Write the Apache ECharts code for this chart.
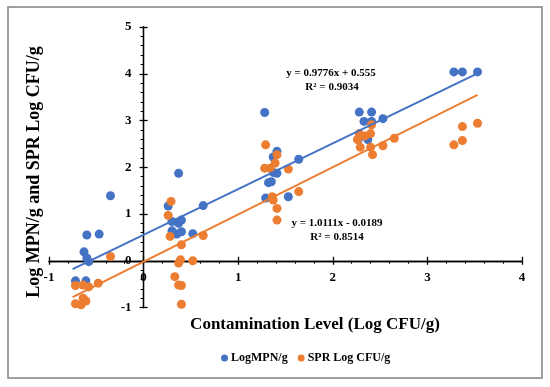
<!DOCTYPE html>
<html>
<head>
<meta charset="utf-8">
<script src="https://cdn.jsdelivr.net/npm/echarts@6/dist/echarts.min.js"></script>
<style>
html,body{margin:0;padding:0;background:#fff;}
#chart{width:550px;height:387px;}
</style>
</head>
<body>
<div id="chart"></div>
<script>
// ---- data ----
const mpnX = [-0.72, -0.61, -0.63, -0.60, -0.58, -0.60, -0.47, -0.35,
  0.37, 0.26, 0.63, 0.30, 0.37, 0.40, 0.30, 0.40, 0.35, 0.52,
  1.28, 1.41, 1.37, 1.64, 1.41, 1.37, 1.32, 1.35, 1.29, 1.53,
  2.28, 2.41, 2.33, 2.41, 2.53, 2.27, 2.37,
  3.28, 3.37, 3.53];
const mpnY = [-0.43, -0.43, 0.19, 0.06, -0.02, 0.55, 0.57, 1.39,
  1.87, 1.17, 1.18, 0.84, 0.80, 0.87, 0.64, 0.62, 0.57, 0.58,
  3.17, 2.34, 2.22, 2.17, 1.87, 1.89, 1.67, 1.69, 1.34, 1.37,
  3.18, 3.18, 2.98, 2.98, 3.04, 2.60, 2.59,
  4.04, 4.04, 4.04];

const sprX = [-0.72, -0.64, -0.58, -0.48, -0.72, -0.66, -0.61, -0.64, -0.35,
  0.29, 0.26, 0.28, 0.63, 0.40, 0.39, 0.37, 0.52, 0.33, 0.37, 0.40, 0.40,
  1.29, 1.41, 1.39, 1.28, 1.34, 1.53, 1.36, 1.37, 1.64, 1.41, 1.41,
  2.28, 2.34, 2.40, 2.41, 2.29, 2.40, 2.42, 2.53, 2.65, 2.26,
  3.37, 3.53, 3.28, 3.37];
const sprY = [-0.53, -0.52, -0.56, -0.48, -0.92, -0.94, -0.86, -0.80, 0.09,
  1.27, 0.97, 0.52, 0.54, 0.34, 0.02, -0.05, 0.00, -0.34, -0.52, -0.53, -0.93,
  2.48, 2.27, 2.09, 1.98, 1.98, 1.96, 1.37, 1.30, 1.48, 1.12, 0.87,
  2.72, 2.67, 2.72, 2.91, 2.43, 2.43, 2.27, 2.46, 2.62, 2.59,
  2.87, 2.94, 2.48, 2.57];

// trendline end points
const mpnTrendX = [-0.75, 3.53];
const mpnTrendY = [-0.18, 4.01];
const sprTrendX = [-0.75, 3.53];
const sprTrendY = [-0.78, 3.55];

const seriesNames = ['LogMPN/g', 'SPR Log CFU/g'];
const xTitle = 'Contamination Level (Log CFU/g)';
const yTitle = 'Log MPN/g and SPR Log CFU/g';
const eq1 = ['y = 0.9776x + 0.555', 'R² = 0.9034'];
const eq2 = ['y = 1.0111x - 0.0189', 'R² = 0.8514'];

const xRange = [-1, 4, 1];
const yRange = [-1, 5, 1];

// ---- chart ----
const zip = (xs, ys) => xs.map((x, i) => [x, ys[i]]);
const BLUE = '#4472C4', ORANGE = '#ED7D31';
const FONT = '"Liberation Serif", "Times New Roman", serif';
const W = 550, H = 387;
const G = {left: 49, right: 28, top: 27, bottom: 79.5};
const gw = W - G.left - G.right, gh = H - G.top - G.bottom;
// offsets so that the axes cross at the origin
const yOffL = -(0 - xRange[0]) / (xRange[1] - xRange[0]) * gw;
const yOffR = -(xRange[1] - 0) / (xRange[1] - xRange[0]) * gw;
const xOffB = -(0 - yRange[0]) / (yRange[1] - yRange[0]) * gh;
const xOffT = -(yRange[1] - 0) / (yRange[1] - yRange[0]) * gh;

const chart = echarts.init(document.getElementById('chart'), null, {renderer: 'canvas'});

function axisX(main) {
  return {
    type: 'value', min: xRange[0], max: xRange[1], interval: xRange[2],
    position: main ? 'bottom' : 'top', offset: main ? xOffB : xOffT,
    axisLine: {show: true, onZero: false, lineStyle: {color: '#000', width: 1.3}},
    axisTick: {show: true, length: 4, lineStyle: {color: '#000', width: 1.3}},
    minorTick: {show: main, splitNumber: 5, length: 3, lineStyle: {color: '#000', width: 1}},
    axisLabel: {show: main, margin: 10, color: '#000', fontFamily: FONT, fontWeight: 'bold', fontSize: 13},
    splitLine: {show: false}
  };
}
function axisY(main) {
  return {
    type: 'value', min: yRange[0], max: yRange[1], interval: yRange[2],
    position: main ? 'left' : 'right', offset: main ? yOffL : yOffR,
    axisLine: {show: true, onZero: false, lineStyle: {color: '#000', width: 1.3}},
    axisTick: {show: true, length: 4, lineStyle: {color: '#000', width: 1.3}},
    minorTick: {show: main, splitNumber: 5, length: 3, lineStyle: {color: '#000', width: 1}},
    axisLabel: {show: main, margin: 12, color: '#000', fontFamily: FONT, fontWeight: 'bold', fontSize: 13},
    splitLine: {show: false}
  };
}

const option = {
  animation: false,
  backgroundColor: '#fff',
  grid: Object.assign({containLabel: false}, G),
  xAxis: [axisX(true), axisX(false)],
  yAxis: [axisY(true), axisY(false)],
  legend: {
    data: seriesNames,
    left: 216, top: 347,
    itemWidth: 7, itemHeight: 7, itemGap: 10,
    icon: 'circle',
    textStyle: {color: '#000', fontFamily: FONT, fontWeight: 'bold', fontSize: 12, padding: [0, 0, 0, -2]}
  },
  series: [
    {name: seriesNames[0], type: 'scatter', symbol: 'circle', symbolSize: 9,
     itemStyle: {color: BLUE, opacity: 1}, data: zip(mpnX, mpnY), z: 2},
    {name: seriesNames[1], type: 'scatter', symbol: 'circle', symbolSize: 9,
     itemStyle: {color: ORANGE, opacity: 1}, data: zip(sprX, sprY), z: 2},
    {name: 'mpnTrend', type: 'line', showSymbol: false, symbol: 'none', silent: true,
     lineStyle: {color: BLUE, width: 2}, data: zip(mpnTrendX, mpnTrendY), z: 3},
    {name: 'sprTrend', type: 'line', showSymbol: false, symbol: 'none', silent: true,
     lineStyle: {color: ORANGE, width: 2}, data: zip(sprTrendX, sprTrendY), z: 3}
  ],
  graphic: [
    {type: 'rect', shape: {x: 8, y: 7, width: 534, height: 371},
     style: {fill: null, stroke: '#808080', lineWidth: 1.5}, silent: true, z: 0},
    {type: 'text', x: 315, y: 325,
     style: {text: xTitle, fill: '#000', font: 'bold 17px ' + FONT, textAlign: 'center', textVerticalAlign: 'middle'}},
    {type: 'text', x: 34, y: 172, rotation: Math.PI / 2,
     style: {text: yTitle, fill: '#000', font: 'bold 18px ' + FONT, textAlign: 'center', textVerticalAlign: 'middle'}},
    {type: 'text', x: 331, y: 73,
     style: {text: eq1[0], fill: '#000', font: 'bold 11px ' + FONT, textAlign: 'center', textVerticalAlign: 'middle'}},
    {type: 'text', x: 332, y: 87,
     style: {text: eq1[1], fill: '#000', font: 'bold 11px ' + FONT, textAlign: 'center', textVerticalAlign: 'middle'}},
    {type: 'text', x: 337, y: 223,
     style: {text: eq2[0], fill: '#000', font: 'bold 11px ' + FONT, textAlign: 'center', textVerticalAlign: 'middle'}},
    {type: 'text', x: 337, y: 237,
     style: {text: eq2[1], fill: '#000', font: 'bold 11px ' + FONT, textAlign: 'center', textVerticalAlign: 'middle'}}
  ]
};
chart.setOption(option);
</script>
</body>
</html>
